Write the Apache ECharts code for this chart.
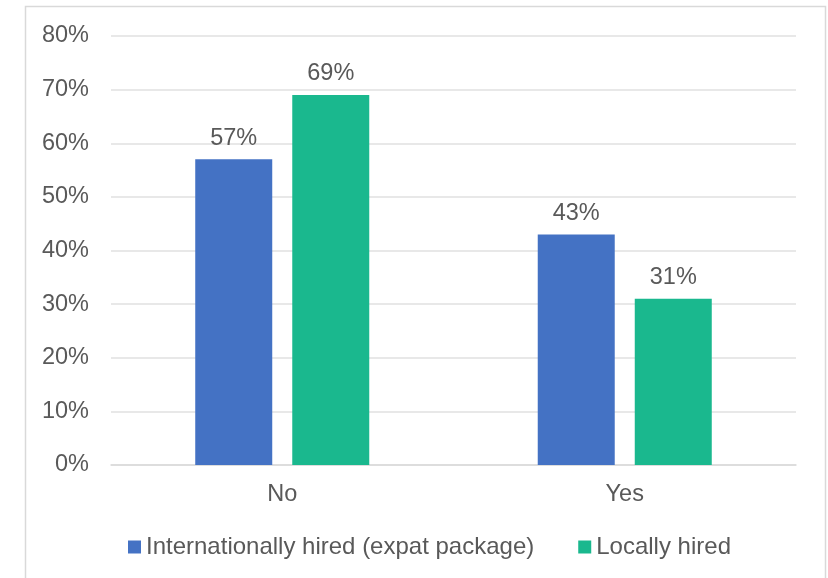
<!DOCTYPE html>
<html>
<head>
<meta charset="utf-8">
<script src="https://cdn.jsdelivr.net/npm/echarts@6/dist/echarts.min.js"></script>
<style>
  html, body { margin: 0; padding: 0; background: #fff; }
  #chart { width: 828px; height: 578px; }
</style>
</head>
<body>
<div id="chart"></div>
<script>
// Answer categories on the x axis
const categories = ['No', 'Yes'];
// Share of respondents per hiring type (%)
const internationallyHired = [57, 43];
const locallyHired = [69, 31];
// Y axis range and step (%)
const yMin = 0, yMax = 80, yStep = 10;
const seriesNames = ['Internationally hired (expat package)', 'Locally hired'];

const textColor = '#595959';
const fontFamily = '"Liberation Sans", Arial, sans-serif';
const fontSize = 23.5;

const chart = echarts.init(document.getElementById('chart'), null, { renderer: 'canvas' });

chart.setOption({
  animation: false,
  backgroundColor: '#ffffff',
  graphic: [{
    type: 'rect',
    shape: { x: 25.5, y: 6.5, width: 800, height: 600 },
    style: { fill: 'none', stroke: '#d9d9d9', lineWidth: 1.5 },
    silent: true
  }],
  grid: { left: 111, right: 32, top: 36, bottom: 113 },
  legend: {
    left: 128,
    top: 535,
    padding: 0,
    itemWidth: 13,
    itemHeight: 13,
    itemGap: 44,
    icon: 'rect',
    textStyle: { color: textColor, fontSize: 24, fontFamily: fontFamily },
    data: seriesNames
  },
  xAxis: {
    type: 'category',
    data: categories,
    axisLine: { lineStyle: { color: '#d9d9d9', width: 1.5 } },
    axisTick: { show: false },
    axisLabel: { color: textColor, fontSize: fontSize, fontFamily: fontFamily, margin: 18 }
  },
  yAxis: {
    type: 'value',
    min: yMin,
    max: yMax,
    interval: yStep,
    axisLine: { show: false },
    axisTick: { show: false },
    splitLine: { lineStyle: { color: '#e0e0e0', width: 1.5 } },
    axisLabel: {
      color: textColor, fontSize: fontSize, fontFamily: fontFamily, margin: 22,
      formatter: v => v + '%'
    }
  },
  series: [
    {
      name: seriesNames[0],
      type: 'bar',
      data: internationallyHired,
      barWidth: 77,
      barGap: '26%',
      itemStyle: { color: '#4472C4' },
      label: {
        show: true, position: 'top', distance: 9,
        color: textColor, fontSize: fontSize, fontFamily: fontFamily,
        formatter: p => p.value + '%'
      }
    },
    {
      name: seriesNames[1],
      type: 'bar',
      data: locallyHired,
      barWidth: 77,
      barGap: '26%',
      itemStyle: { color: '#1AB88E' },
      label: {
        show: true, position: 'top', distance: 9,
        color: textColor, fontSize: fontSize, fontFamily: fontFamily,
        formatter: p => p.value + '%'
      }
    }
  ]
});
</script>
</body>
</html>
